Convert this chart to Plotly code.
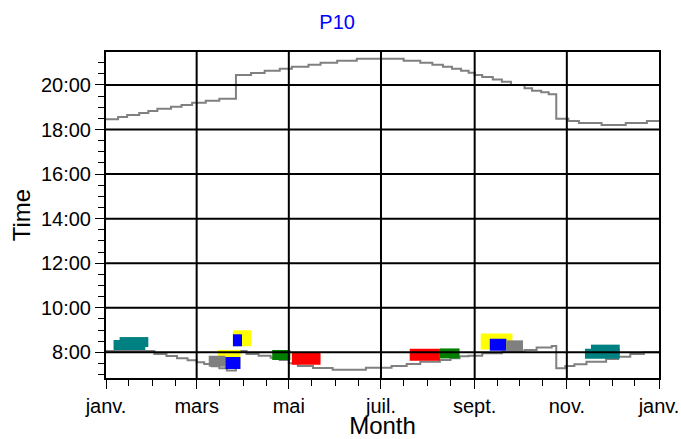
import plotly.graph_objects as go

# evening curve (step values, hours)
sunset_date = ["2020-01-01", "2020-01-09", "2020-01-15", "2020-01-23", "2020-01-29",
               "2020-02-04", "2020-02-13", "2020-02-20", "2020-02-27", "2020-03-07",
               "2020-03-16", "2020-03-27", "2020-04-06", "2020-04-15", "2020-04-25",
               "2020-05-03", "2020-05-14", "2020-05-22", "2020-06-02", "2020-06-15",
               "2020-07-16", "2020-07-27", "2020-08-04", "2020-08-11", "2020-08-17",
               "2020-08-23", "2020-08-28", "2020-09-01", "2020-09-06", "2020-09-13",
               "2020-09-19", "2020-09-25", "2020-10-04", "2020-10-09", "2020-10-15",
               "2020-10-20", "2020-10-25", "2020-11-02", "2020-11-09", "2020-11-24",
               "2020-12-10", "2020-12-24", "2021-01-01"]
sunset_hour = [18.46, 18.56, 18.65, 18.74, 18.83,
               18.93, 19.02, 19.10, 19.20, 19.29,
               19.38, 20.45, 20.54, 20.64, 20.73,
               20.82, 20.91, 21.00, 21.09, 21.18,
               21.09, 21.00, 20.91, 20.82, 20.73,
               20.64, 20.55, 20.45, 20.36, 20.25,
               20.15, 20.00, 19.85, 19.74, 19.67,
               19.58, 18.48, 18.38, 18.29, 18.20,
               18.29, 18.38, 18.38]

# morning curve
sunrise_date = ["2020-01-01", "2020-02-02", "2020-02-10", "2020-02-17", "2020-02-24",
                "2020-03-01", "2020-03-06", "2020-03-11", "2020-03-16", "2020-03-21",
                "2020-03-27", "2020-04-03", "2020-04-11", "2020-04-19", "2020-04-25",
                "2020-05-01", "2020-05-07", "2020-05-17", "2020-05-30", "2020-06-21",
                "2020-07-08", "2020-07-18", "2020-07-27", "2020-08-09", "2020-08-16",
                "2020-08-22", "2020-08-28", "2020-09-06", "2020-09-19", "2020-10-04",
                "2020-10-12", "2020-10-22", "2020-10-25", "2020-10-31", "2020-11-06",
                "2020-11-14", "2020-11-27", "2020-12-05", "2020-12-13", "2020-12-22",
                "2021-01-01"]
sunrise_hour = [8.06, 7.92, 7.83, 7.73, 7.64,
                7.55, 7.47, 7.38, 7.28, 7.18,
                8.06, 7.92, 7.85, 7.76, 7.65,
                7.51, 7.39, 7.30, 7.22, 7.31,
                7.39, 7.47, 7.58, 7.65, 7.73,
                7.82, 7.85, 7.96, 8.03, 8.10,
                8.22, 8.28, 7.28, 7.39, 7.46,
                7.58, 7.70, 7.80, 7.92, 8.00,
                8.00]

# observation periods (drawn back to front)
mark_color = ["teal", "teal", "yellow", "gray", "blue", "yellow", "blue", "green",
              "red", "red", "green", "yellow", "blue", "gray", "teal", "teal"]
mark_start = ["2020-01-06", "2020-01-10", "2020-03-15", "2020-03-09", "2020-03-20",
              "2020-03-25", "2020-03-25", "2020-04-20", "2020-05-03", "2020-07-20",
              "2020-08-09", "2020-09-05", "2020-09-11", "2020-09-22", "2020-11-13",
              "2020-11-17"]
mark_end = ["2020-01-27", "2020-01-29", "2020-03-30", "2020-03-20", "2020-03-30",
            "2020-04-06", "2020-03-31", "2020-05-02", "2020-05-22", "2020-08-09",
            "2020-08-22", "2020-09-26", "2020-09-22", "2020-10-03", "2020-12-06",
            "2020-12-06"]
mark_hour = [8.33, 8.46, 7.75, 7.60, 7.52, 8.63, 8.54, 7.88,
             7.71, 7.89, 7.95, 8.49, 8.34, 8.29, 7.94, 8.12]

month_ticks = ["2020-01-01", "2020-03-01", "2020-05-01", "2020-07-01",
               "2020-09-01", "2020-11-01", "2021-01-01"]
month_labels = ["janv.", "mars", "mai", "juil.", "sept.", "nov.", "janv."]
hour_ticks = [8, 10, 12, 14, 16, 18, 20]
hour_labels = ["8:00", "10:00", "12:00", "14:00", "16:00", "18:00", "20:00"]

COLORS = {"teal": "#008080", "gray": "#808080", "yellow": "#ffff00",
          "blue": "#0000ff", "green": "#008000", "red": "#ff0000"}
THICK = {"teal": 10, "gray": 11, "yellow": 16, "blue": 12, "green": 10, "red": 12}
FONT = "Liberation Sans, Arial, sans-serif"

fig = go.Figure()
for d, h in [(sunset_date, sunset_hour), (sunrise_date, sunrise_hour)]:
    fig.add_trace(go.Scatter(x=d, y=h, mode="lines", line_shape="hv",
                             line=dict(color="#808080", width=2),
                             showlegend=False, hoverinfo="skip"))

for c, s, e, h in zip(mark_color, mark_start, mark_end, mark_hour):
    fig.add_trace(go.Scatter(x=[s, e], y=[h, h], mode="lines",
                             line=dict(color=COLORS[c], width=THICK[c]),
                             showlegend=False))

# grid drawn above the data, as in the original
for h in hour_ticks:
    fig.add_shape(type="line", xref="paper", x0=0, x1=1, yref="y", y0=h, y1=h,
                  line=dict(color="black", width=2), layer="above")
for m in month_ticks[1:-1]:
    fig.add_shape(type="line", xref="x", x0=m, x1=m, yref="paper", y0=0, y1=1,
                  line=dict(color="black", width=2), layer="above")

minor_x = []
for mo in range(1, 13):
    minor_x.append(f"2020-{mo:02d}-16")
    if mo % 2 == 0:
        minor_x.append(f"2020-{mo:02d}-01")

fig.update_layout(
    width=681, height=439,
    margin=dict(l=106, r=22, t=52, b=61),
    paper_bgcolor="white", plot_bgcolor="white",
    font=dict(family=FONT, size=20, color="black"),
    title=dict(text="P10", font=dict(color="#0000ff", size=20),
               x=0.495, xref="container", y=0.95, yanchor="middle"),
    xaxis=dict(type="date", range=["2020-01-01", "2021-01-01"], automargin=False,
               tickmode="array", tickvals=month_ticks, ticktext=month_labels,
               ticks="outside", ticklen=9, tickwidth=1, tickcolor="black",
               showgrid=False, zeroline=False,
               showline=True, linecolor="black", linewidth=2, mirror=True,
               minor=dict(tickmode="array", tickvals=minor_x, ticks="outside",
                          ticklen=6, tickcolor="black", showgrid=False),
               title=dict(text="Month", standoff=6)),
    yaxis=dict(range=[6.847, 21.48], automargin=False,
               tickmode="array", tickvals=hour_ticks, ticktext=hour_labels,
               ticks="outside", ticklen=9, tickwidth=1, tickcolor="black",
               showgrid=False, zeroline=False,
               showline=True, linecolor="black", linewidth=2, mirror=True,
               minor=dict(tick0=0, dtick=0.5, ticks="outside", ticklen=6,
                          tickcolor="black", showgrid=False),
               title=dict(text="Time", standoff=4)),
)

# drop the default page margin so the figure fills the window exactly
fig.write_html("out.html", config={"displayModeBar": False},
               post_script="document.body.style.margin='0px';")
